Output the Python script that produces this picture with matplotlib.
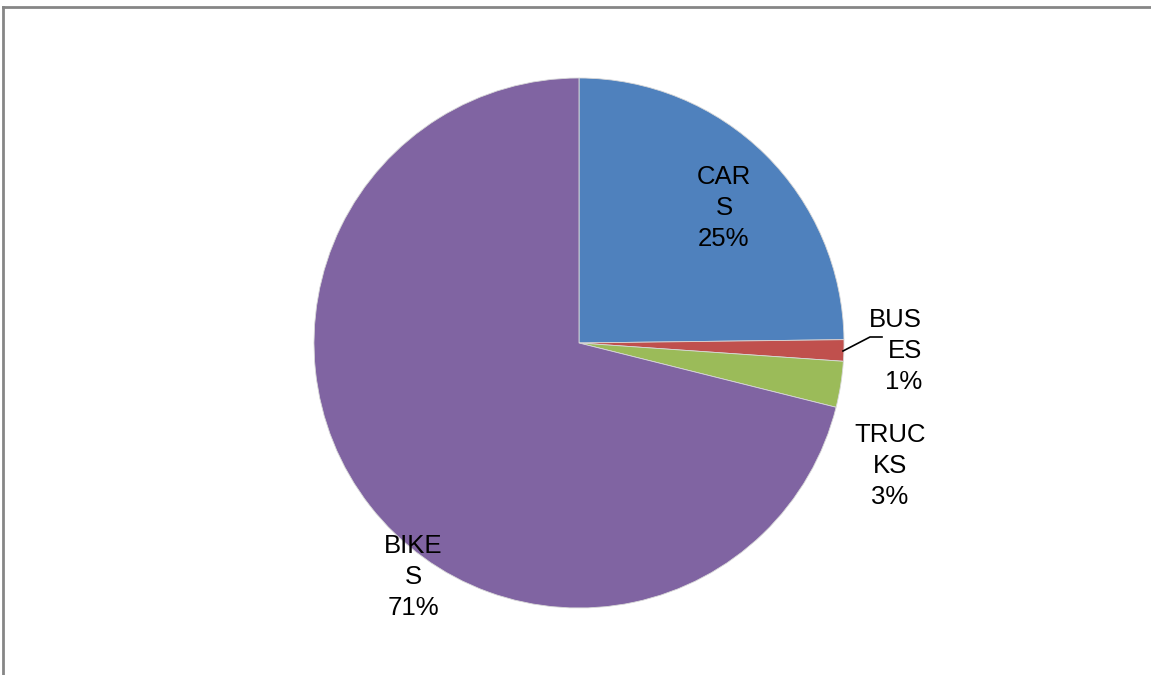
import matplotlib.pyplot as plt
from matplotlib.lines import Line2D

# data
categories = ["CARS", "BUSES", "TRUCKS", "BIKES"]
shares = [24.8, 1.3, 2.8, 71.1]
colors = ["#4F81BD", "#C0504D", "#9BBB59", "#8064A2"]

# label layout (pixel coords, y from top), where each name wraps
wrap_at = [3, 3, 4, 4]
label_xy = [(724, 208), (922, 351), (890, 466), (413, 577)]
label_align = ["center", "right", "center", "center"]

W, H = 1151, 675
fig = plt.figure(figsize=(W / 100, H / 100), dpi=100)
ax = fig.add_axes([0, 0, 1, 1])

cx, cy, r = 579, H - 343, 265
ax.pie(shares, colors=colors, startangle=90, counterclock=False,
       center=(cx, cy), radius=r, frame=True,
       wedgeprops=dict(edgecolor="#d8d8d8", linewidth=0.6))
ax.set_xlim(0, W)
ax.set_ylim(0, H)
ax.set_aspect("equal")
ax.axis("off")

total = sum(shares)
for name, val, k, (x, y), al in zip(categories, shares, wrap_at, label_xy, label_align):
    txt = f"{name[:k]}\n{name[k:]}\n{round(val / total * 100):.0f}%"
    ax.text(x, H - y, txt, ha=al, va="center", multialignment=al,
            fontsize=18.5, family=["Liberation Sans", "DejaVu Sans"],
            linespacing=1.37)

# leader line for the small slice
ax.plot([843, 870, 882], [H - 351, H - 337, H - 337], color="black", lw=1.2)

# outer frame (top and left only visible)
fig.add_artist(Line2D([3 / W, 1], [1 - 6.5 / H, 1 - 6.5 / H], color="#868686", lw=2))
fig.add_artist(Line2D([3 / W, 3 / W], [0, 1 - 6.5 / H], color="#868686", lw=2))

fig.savefig("out.png", dpi=100, facecolor="white")
